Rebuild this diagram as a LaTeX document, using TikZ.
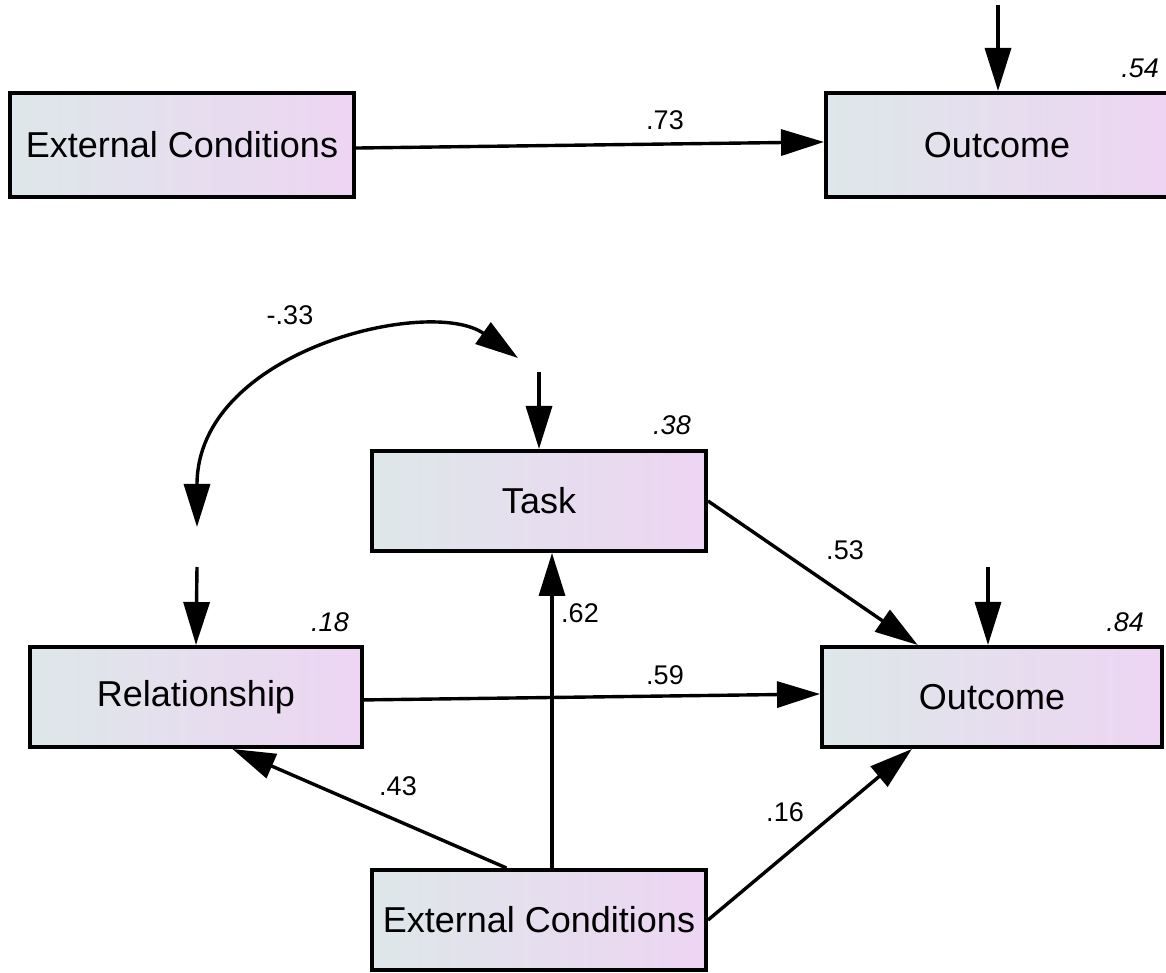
\documentclass[tikz,border=0pt]{standalone}
\usepackage{fontspec}
\setmainfont{Liberation Sans}
\usetikzlibrary{arrows.meta}

\definecolor{boxleft}{RGB}{222,231,233}
\definecolor{boxright}{RGB}{237,213,243}

\tikzset{box/.style={rectangle, draw, line width=4pt, left color=boxleft, right color=boxright, inner sep=0pt, font=\fontsize{36}{40}\selectfont}}

\begin{document}
\begin{tikzpicture}[x=1pt, y=1pt,
		path/.style={line width=3.4pt, -{Triangle[length=43pt,width=26pt]}},
		cov/.style={line width=3.4pt, {Triangle[length=43pt,width=26pt]}-{Triangle[length=43pt,width=26pt]}},
		coef/.style={font=\fontsize{27}{30}\selectfont},
		rsq/.style={font=\fontsize{27}{30}\selectfont\itshape}]
		\useasboundingbox (0,0) rectangle (1166,972);
		
		% Draw the nodes
		\node[box, minimum width=344pt, minimum height=104pt] (EC1) at (182,827) {External Conditions};
		\node[box, minimum width=342pt, minimum height=104pt] (O1) at (997,827) {Outcome};
		
		\node[box, minimum width=334pt, minimum height=100pt] (T) at (539,471) {Task};
		\node[box, minimum width=332pt, minimum height=100pt] (R) at (196,275) {Relationship};
		\node[box, minimum width=340pt, minimum height=100pt] (O2) at (992,275) {Outcome};
		\node[box, minimum width=334pt, minimum height=100pt] (EC2) at (539,52) {External Conditions};
		
		% Error terms
		\coordinate (e1) at (998,967);
		\coordinate (eT) at (539,600);
		\coordinate (eR) at (197,405);
		\coordinate (eO) at (988,405);
		\coordinate (cR) at (197,445);
		\coordinate (cT) at (518,614);
		
		% Draw the paths
		\draw[path] (EC1.-1) -- (O1.179);
		\draw[path] (e1) -- (e1 |- O1.north);
		
		\draw[path] (eT) -- (T.north);
		\draw[path] (eR) -- (R.north);
		\draw[path] (eO) -- (eO |- O2.north);
		\draw[cov] (cR) .. controls +(0,177) and +(-87,62) .. (cT);
		
		\draw[path] (T.east) -- (O2.145);
		\draw[path] (R.-1) -- (O2.179);
		\draw[path] ([xshift=13pt]EC2.north) -- ([xshift=13pt]T.south);
		\draw[path] (EC2.122) -- (R.-55);
		\draw[path] (EC2.east) -- (O2.213);
		
		% Coefficients
		\node[coef] (l73) at (665,852) {.73};
		\node[rsq] (l54) at (1140,904) {.54};
		\node[coef] (l33) at (290,657) {-.33};
		\node[rsq] (l38) at (672,547) {.38};
		\node[coef] (l53) at (845,422) {.53};
		\node[coef] (l62) at (580,359) {.62};
		\node[rsq] (l18) at (330,350) {.18};
		\node[rsq] (l84) at (1125,350) {.84};
		\node[coef] (l59) at (665,297) {.59};
		\node[coef] (l43) at (398,186) {.43};
		\node[coef] (l16) at (785,160) {.16};
	\end{tikzpicture}
\end{document}
